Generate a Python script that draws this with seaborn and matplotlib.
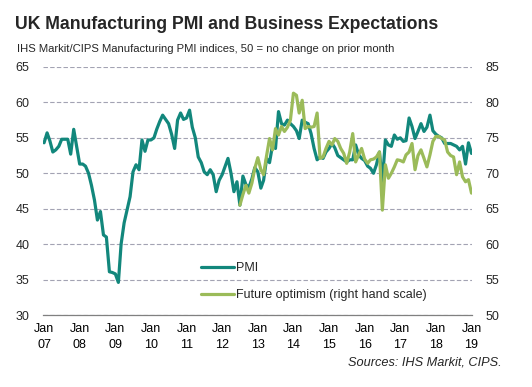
import pandas as pd
import numpy as np
import matplotlib.pyplot as plt
import seaborn as sns

# Monthly data, Jan 2007 - Jan 2019
pmi_2007 = [54.3, 55.7, 54.6, 53.0, 53.3, 53.8, 54.8, 54.8, 54.8, 52.7, 56.2, 53.8]
pmi_2008 = [51.3, 51.3, 51.0, 50.0, 48.3, 46.2, 43.4, 44.6, 41.3, 41.0, 36.1, 36.0]
pmi_2009 = [35.8, 34.6, 40.0, 43.0, 44.8, 46.7, 50.2, 51.2, 50.5, 54.7, 53.1, 54.7]
pmi_2010 = [54.7, 55.0, 56.2, 57.3, 58.2, 57.6, 57.0, 55.5, 53.5, 57.5, 58.5, 57.6]
pmi_2011 = [57.8, 58.9, 56.5, 55.0, 52.3, 51.5, 50.2, 49.8, 50.5, 49.8, 47.4, 49.0]
pmi_2012 = [49.8, 51.0, 52.1, 50.0, 47.4, 48.8, 45.5, 49.6, 48.4, 48.0, 49.2, 50.8]
pmi_2013 = [50.2, 47.9, 49.0, 52.1, 51.5, 54.0, 53.5, 58.7, 57.0, 56.8, 57.5, 57.0]
pmi_2014 = [56.6, 56.0, 54.9, 57.5, 57.2, 57.0, 55.6, 53.5, 51.9, 52.3, 52.1, 53.0]
pmi_2015 = [53.5, 54.2, 53.6, 52.5, 52.2, 51.9, 51.6, 51.9, 51.9, 54.0, 52.6, 52.1]
pmi_2016 = [51.8, 51.0, 50.7, 50.0, 51.2, 53.0, 48.8, 54.7, 54.0, 53.8, 55.4, 54.8]
pmi_2017 = [55.0, 54.5, 54.6, 57.8, 56.6, 54.9, 55.9, 57.0, 55.9, 56.5, 58.2, 56.0]
pmi_2018 = [55.5, 55.2, 55.0, 54.2, 54.2, 54.2, 54.0, 53.8, 53.3, 53.8, 51.3, 54.3]
pmi_2019 = [52.8]

# Future optimism (right hand scale), Jul 2012 - Jan 2019
opt_2012 = [65.5, 67.0, 68.3, 67.2, 68.6, 70.7]
opt_2013 = [72.2, 70.5, 69.8, 72.5, 74.9, 73.3, 76.3, 75.4, 76.6, 75.9, 76.5, 77.5]
opt_2014 = [81.3, 81.0, 78.5, 80.3, 76.3, 76.6, 76.5, 76.6, 78.5, 72.1, 72.3, 73.5]
opt_2015 = [74.5, 74.0, 74.9, 74.5, 73.5, 72.8, 71.4, 73.0, 75.6, 71.6, 72.6, 73.5]
opt_2016 = [72.0, 71.4, 71.9, 72.0, 72.3, 73.0, 64.8, 71.2, 69.3, 70.0, 70.9, 71.9]
opt_2017 = [71.8, 71.6, 72.6, 73.0, 74.2, 70.5, 72.5, 73.3, 72.1, 70.9, 72.6, 74.5]
opt_2018 = [75.2, 75.2, 74.9, 74.7, 73.0, 72.5, 72.3, 69.8, 71.6, 69.5, 68.8, 69.1]
opt_2019 = [67.2]

pmi = (pmi_2007 + pmi_2008 + pmi_2009 + pmi_2010 + pmi_2011 + pmi_2012 + pmi_2013
       + pmi_2014 + pmi_2015 + pmi_2016 + pmi_2017 + pmi_2018 + pmi_2019)
optimism = opt_2012 + opt_2013 + opt_2014 + opt_2015 + opt_2016 + opt_2017 + opt_2018 + opt_2019

pmi_df = pd.DataFrame({"date": pd.date_range("2007-01-01", periods=len(pmi), freq="MS"),
                       "value": pmi})
opt_df = pd.DataFrame({"date": pd.date_range("2012-07-01", periods=len(optimism), freq="MS"),
                       "value": optimism})

year_labels = [f"Jan\n{y % 100:02d}" for y in range(2007, 2020)]

TEAL = "#12877C"
GREEN = "#9BBB59"

sns.set_style("white")
plt.rcParams["font.family"] = ["Liberation Sans", "DejaVu Sans"]

fig = plt.figure(figsize=(5.32, 3.87), dpi=100)
ax = fig.add_axes([0.081, 0.186, 0.806, 0.641])
ax2 = ax.twinx()

sns.lineplot(data=pmi_df, x="date", y="value", ax=ax, color=TEAL, lw=2.3, label="PMI", legend=False)
sns.lineplot(data=opt_df, x="date", y="value", ax=ax2, color=GREEN, lw=2.3,
             label="Future optimism (right hand scale)", legend=False)

ax.set_ylim(30, 65)
ax2.set_ylim(50, 85)
ax.set_yticks(range(30, 66, 5))
ax2.set_yticks(range(50, 86, 5))
ax.set_xlim(pd.Timestamp("2006-12-22"), pd.Timestamp("2019-01-05"))

ax.grid(axis="y", color="#A3A3B3", linestyle=(0, (4, 2)), lw=0.8)
ax.set_axisbelow(True)

years = pd.date_range("2007-01-01", "2019-01-01", freq="YS")
ax.set_xticks(years)
ax.set_xticklabels(year_labels, linespacing=1.4)
ax.set_xticks(pd.date_range("2007-01-01", "2019-01-01", freq="24MS"), minor=True)
ax.tick_params(axis="x", which="major", length=0, pad=6, labelsize=9, colors="#000000")
ax.tick_params(axis="x", which="minor", length=3, width=0.8, color="#808080", direction="out")
ax.tick_params(axis="y", length=0, labelsize=9, pad=10)
ax2.tick_params(axis="y", length=0, labelsize=9, pad=10)

for a in (ax, ax2):
    for s in ("top", "left", "right", "bottom"):
        a.spines[s].set_visible(False)
ax.spines["bottom"].set_visible(True)
ax.spines["bottom"].set_color("#808080")
ax.spines["bottom"].set_linewidth(0.9)

ax.set_xlabel("")
ax.set_ylabel("")
ax2.set_ylabel("")

h1, l1 = ax.get_legend_handles_labels()
h2, l2 = ax2.get_legend_handles_labels()
ax2.legend(h1 + h2, l1 + l2, loc="upper left", bbox_to_anchor=(0.377, 0.322),
           bbox_transform=fig.transFigure, frameon=False, fontsize=9,
           handlelength=2.7, handletextpad=0.15, labelspacing=1.2,
           borderpad=0, borderaxespad=0)

fig.text(0.028, 0.925, "UK Manufacturing PMI and Business Expectations",
         fontsize=12.7, fontweight="bold", va="baseline")
fig.text(0.032, 0.865, "IHS Markit/CIPS Manufacturing PMI indices, 50 = no change on prior month",
         fontsize=8.1, va="baseline")
fig.text(0.943, 0.055, "Sources: IHS Markit, CIPS.", fontsize=9.2, style="italic",
         ha="right", va="baseline")

plt.savefig("out.png", dpi=100)
